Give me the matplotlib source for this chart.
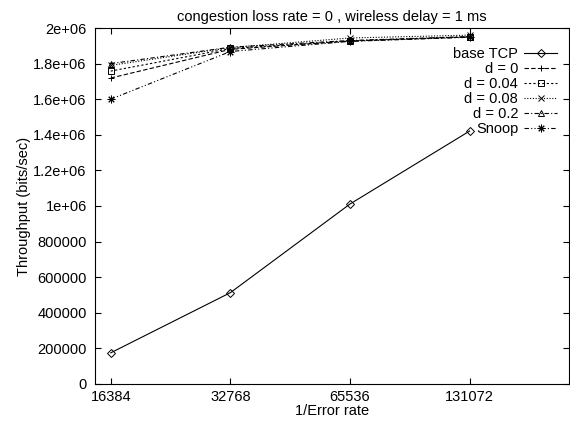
import matplotlib
matplotlib.use("Agg")
import matplotlib.pyplot as plt

plt.rcParams['font.family'] = ['Liberation Sans', 'DejaVu Sans']

error_inv = [16384, 32768, 65536, 131072]
base_tcp = [175000, 513000, 1011000, 1421000]
d_0 = [1719000, 1880000, 1927000, 1950000]
d_004 = [1758000, 1885000, 1927000, 1950000]
d_008 = [1790000, 1890000, 1944000, 1960000]
d_02 = [1800000, 1892000, 1930000, 1952000]
snoop = [1600000, 1868000, 1925000, 1948000]

y_ticks = [0, 200000, 400000, 600000, 800000, 1000000, 1200000,
           1400000, 1600000, 1800000, 2000000]
y_labels = ["0", "200000", "400000", "600000", "800000", "1e+06",
            "1.2e+06", "1.4e+06", "1.6e+06", "1.8e+06", "2e+06"]
x_labels = ["16384", "32768", "65536", "131072"]

fs = 10.5
fig = plt.figure(figsize=(5.7, 4.25), dpi=100)
ax = fig.add_axes([0.1667, 0.0965, 0.8316, 0.8376])

lw = 0.8
ms = 5
ax.plot(error_inv, base_tcp, color='black', lw=lw, marker='D', ms=4,
        mfc='none', mew=0.7, label='base TCP')
ax.plot(error_inv, d_0, color='black', lw=lw, ls=(0, (4, 2)), marker='+',
        ms=ms, mew=0.7, label='d = 0')
ax.plot(error_inv, d_004, color='black', lw=lw, ls=(0, (2, 2)), marker='s',
        ms=4.5, mfc='none', mew=0.7, label='d = 0.04')
ax.plot(error_inv, d_008, color='black', lw=lw, ls=(0, (1, 1.5)), marker='x',
        ms=ms, mew=0.7, label='d = 0.08')
ax.plot(error_inv, d_02, color='black', lw=lw, ls=(0, (4, 2, 1, 2)), marker='^',
        ms=ms, mfc='none', mew=0.7, label='d = 0.2')
ax.plot(error_inv, snoop, color='black', lw=lw, ls=(0, (4, 2, 1, 2, 1, 2)),
        marker=(8, 2, 0), ms=5.5, mew=0.7, label='Snoop')

ax.set_xscale('log', base=2)
ax.set_xlim(14960, 233200)
ax.set_ylim(0, 2000000)
ax.set_xticks(error_inv)
ax.set_xticklabels(x_labels)
ax.minorticks_off()
ax.set_yticks(y_ticks)
ax.set_yticklabels(y_labels)

ax.tick_params(direction='in', length=4.5, width=0.8, top=True, right=True,
               labelsize=fs)
ax.tick_params(axis='x', pad=4)
ax.tick_params(axis='y', pad=6)
for s in ax.spines.values():
    s.set_linewidth(0.8)

ax.set_xlabel('1/Error rate', fontsize=fs, labelpad=0)
ax.set_ylabel('Throughput (bits/sec)', fontsize=fs, labelpad=2)
ax.set_title('congestion loss rate = 0 , wireless delay = 1 ms', fontsize=fs, pad=5)

ax.legend(loc='upper right', bbox_to_anchor=(0.99, 0.966), frameon=False,
          markerfirst=False, fontsize=fs, borderpad=0, labelspacing=0.06,
          handlelength=2.26, handletextpad=0.4)

fig.savefig('out.png', dpi=100)
